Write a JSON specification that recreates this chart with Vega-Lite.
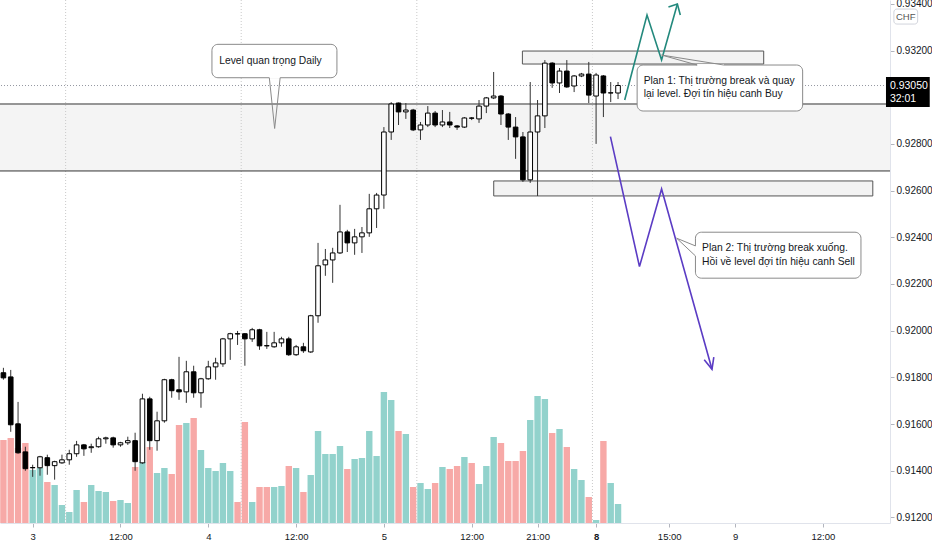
{
  "$schema": "https://vega.github.io/schema/vega-lite/v6.json",
  "description": "USDCHF 1h with daily level and two trading plans",
  "width": 890,
  "height": 523,
  "autosize": "none",
  "padding": {"left": 0, "top": 0, "right": 42, "bottom": 27},
  "background": "#ffffff",
  "datasets": {
    "bars": [
      {"i": -4, "o": 0.9182, "h": 0.91841, "l": 0.9179, "c": 0.91798, "v": 830},
      {"i": -3, "o": 0.91802, "h": 0.91832, "l": 0.91567, "c": 0.91597, "v": 850},
      {"i": -2, "o": 0.91601, "h": 0.91695, "l": 0.91473, "c": 0.91477, "v": 750},
      {"i": -1, "o": 0.91481, "h": 0.91503, "l": 0.914, "c": 0.91409, "v": 800},
      {"i": 0, "o": 0.91413, "h": 0.91426, "l": 0.91374, "c": 0.91414, "v": 530},
      {"i": 1, "o": 0.91413, "h": 0.91464, "l": 0.91379, "c": 0.9146, "v": 550},
      {"i": 2, "o": 0.91456, "h": 0.91469, "l": 0.91383, "c": 0.91422, "v": 410},
      {"i": 3, "o": 0.91422, "h": 0.91443, "l": 0.91362, "c": 0.91439, "v": 380},
      {"i": 4, "o": 0.91434, "h": 0.91469, "l": 0.9143, "c": 0.91447, "v": 180},
      {"i": 5, "o": 0.91447, "h": 0.9149, "l": 0.91426, "c": 0.91473, "v": 110},
      {"i": 6, "o": 0.91473, "h": 0.91528, "l": 0.9146, "c": 0.91511, "v": 330},
      {"i": 7, "o": 0.91511, "h": 0.91515, "l": 0.91464, "c": 0.91494, "v": 210},
      {"i": 8, "o": 0.91499, "h": 0.91516, "l": 0.91477, "c": 0.91503, "v": 380},
      {"i": 9, "o": 0.91503, "h": 0.91546, "l": 0.91499, "c": 0.91537, "v": 320},
      {"i": 10, "o": 0.91537, "h": 0.91546, "l": 0.91516, "c": 0.91541, "v": 310},
      {"i": 11, "o": 0.91541, "h": 0.91546, "l": 0.91499, "c": 0.91511, "v": 220},
      {"i": 12, "o": 0.91511, "h": 0.91524, "l": 0.91503, "c": 0.9152, "v": 230},
      {"i": 13, "o": 0.9152, "h": 0.91546, "l": 0.91511, "c": 0.91529, "v": 200},
      {"i": 14, "o": 0.91529, "h": 0.91563, "l": 0.914, "c": 0.91439, "v": 560},
      {"i": 15, "o": 0.91434, "h": 0.9173, "l": 0.9143, "c": 0.91708, "v": 610},
      {"i": 16, "o": 0.91708, "h": 0.91717, "l": 0.9149, "c": 0.91529, "v": 760},
      {"i": 17, "o": 0.91529, "h": 0.91653, "l": 0.91486, "c": 0.91614, "v": 500},
      {"i": 18, "o": 0.91614, "h": 0.91794, "l": 0.91606, "c": 0.9179, "v": 550},
      {"i": 19, "o": 0.9179, "h": 0.91794, "l": 0.91713, "c": 0.91743, "v": 490},
      {"i": 20, "o": 0.91747, "h": 0.91888, "l": 0.91704, "c": 0.91738, "v": 980},
      {"i": 21, "o": 0.91738, "h": 0.91871, "l": 0.91691, "c": 0.91824, "v": 1000},
      {"i": 22, "o": 0.91824, "h": 0.9185, "l": 0.91713, "c": 0.91734, "v": 1050},
      {"i": 23, "o": 0.91734, "h": 0.91798, "l": 0.9167, "c": 0.91794, "v": 730},
      {"i": 24, "o": 0.91794, "h": 0.91871, "l": 0.9179, "c": 0.91845, "v": 550},
      {"i": 25, "o": 0.91845, "h": 0.91884, "l": 0.9179, "c": 0.91862, "v": 520},
      {"i": 26, "o": 0.91858, "h": 0.91969, "l": 0.91845, "c": 0.91965, "v": 600},
      {"i": 27, "o": 0.91965, "h": 0.91991, "l": 0.91875, "c": 0.91987, "v": 520},
      {"i": 28, "o": 0.91987, "h": 0.91999, "l": 0.91939, "c": 0.91986, "v": 210},
      {"i": 29, "o": 0.91987, "h": 0.9199, "l": 0.9185, "c": 0.91965, "v": 1010},
      {"i": 30, "o": 0.91965, "h": 0.92012, "l": 0.91952, "c": 0.92004, "v": 210},
      {"i": 31, "o": 0.92004, "h": 0.92008, "l": 0.91918, "c": 0.91935, "v": 360},
      {"i": 32, "o": 0.91936, "h": 0.91995, "l": 0.91922, "c": 0.91935, "v": 360},
      {"i": 33, "o": 0.91931, "h": 0.91995, "l": 0.91927, "c": 0.91948, "v": 360},
      {"i": 34, "o": 0.91948, "h": 0.91974, "l": 0.91931, "c": 0.91965, "v": 370},
      {"i": 35, "o": 0.91965, "h": 0.91974, "l": 0.91892, "c": 0.91897, "v": 570},
      {"i": 36, "o": 0.91897, "h": 0.91939, "l": 0.91892, "c": 0.91931, "v": 550},
      {"i": 37, "o": 0.91931, "h": 0.91948, "l": 0.91905, "c": 0.91914, "v": 310},
      {"i": 38, "o": 0.91909, "h": 0.92068, "l": 0.91905, "c": 0.92064, "v": 480},
      {"i": 39, "o": 0.92064, "h": 0.92376, "l": 0.92034, "c": 0.92278, "v": 920},
      {"i": 40, "o": 0.92282, "h": 0.9235, "l": 0.92235, "c": 0.92303, "v": 690},
      {"i": 41, "o": 0.92303, "h": 0.92355, "l": 0.92205, "c": 0.92333, "v": 690},
      {"i": 42, "o": 0.92333, "h": 0.92539, "l": 0.92329, "c": 0.92423, "v": 770},
      {"i": 43, "o": 0.92423, "h": 0.92432, "l": 0.92337, "c": 0.92376, "v": 540},
      {"i": 44, "o": 0.92376, "h": 0.92436, "l": 0.92325, "c": 0.92402, "v": 640},
      {"i": 45, "o": 0.92402, "h": 0.92444, "l": 0.92333, "c": 0.92419, "v": 650},
      {"i": 46, "o": 0.92419, "h": 0.92586, "l": 0.92402, "c": 0.92522, "v": 920},
      {"i": 47, "o": 0.92522, "h": 0.9259, "l": 0.9244, "c": 0.92581, "v": 670},
      {"i": 48, "o": 0.92581, "h": 0.92872, "l": 0.92522, "c": 0.92851, "v": 1310},
      {"i": 49, "o": 0.92851, "h": 0.92979, "l": 0.92817, "c": 0.92971, "v": 1230},
      {"i": 50, "o": 0.92975, "h": 0.92977, "l": 0.92881, "c": 0.92937, "v": 920},
      {"i": 51, "o": 0.92937, "h": 0.92975, "l": 0.92907, "c": 0.92945, "v": 890},
      {"i": 52, "o": 0.92945, "h": 0.9295, "l": 0.92855, "c": 0.9286, "v": 360},
      {"i": 53, "o": 0.9286, "h": 0.92894, "l": 0.92817, "c": 0.92881, "v": 400},
      {"i": 54, "o": 0.92881, "h": 0.92962, "l": 0.92872, "c": 0.92932, "v": 340},
      {"i": 55, "o": 0.92932, "h": 0.92941, "l": 0.92872, "c": 0.92881, "v": 400},
      {"i": 56, "o": 0.92881, "h": 0.92945, "l": 0.92872, "c": 0.92894, "v": 560},
      {"i": 57, "o": 0.92894, "h": 0.92937, "l": 0.92868, "c": 0.92881, "v": 540},
      {"i": 58, "o": 0.92877, "h": 0.92881, "l": 0.9286, "c": 0.92872, "v": 570},
      {"i": 59, "o": 0.92872, "h": 0.92915, "l": 0.92868, "c": 0.92911, "v": 660},
      {"i": 60, "o": 0.92911, "h": 0.92915, "l": 0.92902, "c": 0.9291, "v": 600},
      {"i": 61, "o": 0.92907, "h": 0.92988, "l": 0.9289, "c": 0.92962, "v": 390},
      {"i": 62, "o": 0.92962, "h": 0.93001, "l": 0.92932, "c": 0.92997, "v": 570},
      {"i": 63, "o": 0.92997, "h": 0.93108, "l": 0.92992, "c": 0.93005, "v": 860},
      {"i": 64, "o": 0.93005, "h": 0.93009, "l": 0.92881, "c": 0.92928, "v": 800},
      {"i": 65, "o": 0.92928, "h": 0.92932, "l": 0.92817, "c": 0.92872, "v": 620},
      {"i": 66, "o": 0.92872, "h": 0.92915, "l": 0.92736, "c": 0.9283, "v": 620},
      {"i": 67, "o": 0.9283, "h": 0.92851, "l": 0.92637, "c": 0.92646, "v": 720},
      {"i": 68, "o": 0.92646, "h": 0.93065, "l": 0.92633, "c": 0.92851, "v": 1030},
      {"i": 69, "o": 0.92851, "h": 0.92988, "l": 0.92577, "c": 0.9292, "v": 1270},
      {"i": 70, "o": 0.9292, "h": 0.93159, "l": 0.92868, "c": 0.93146, "v": 1240},
      {"i": 71, "o": 0.93146, "h": 0.9315, "l": 0.9304, "c": 0.93061, "v": 900},
      {"i": 72, "o": 0.93061, "h": 0.93125, "l": 0.93018, "c": 0.93112, "v": 940},
      {"i": 73, "o": 0.93112, "h": 0.93159, "l": 0.9304, "c": 0.93044, "v": 760},
      {"i": 74, "o": 0.93048, "h": 0.93095, "l": 0.93022, "c": 0.93091, "v": 540},
      {"i": 75, "o": 0.93091, "h": 0.93104, "l": 0.93086, "c": 0.93099, "v": 430},
      {"i": 76, "o": 0.93099, "h": 0.93151, "l": 0.92975, "c": 0.93009, "v": 260},
      {"i": 77, "o": 0.93005, "h": 0.93104, "l": 0.928, "c": 0.93095, "v": 30},
      {"i": 78, "o": 0.93091, "h": 0.93095, "l": 0.92915, "c": 0.93018, "v": 820},
      {"i": 79, "o": 0.93018, "h": 0.93065, "l": 0.92979, "c": 0.93019, "v": 400},
      {"i": 80, "o": 0.93018, "h": 0.93065, "l": 0.92992, "c": 0.9305, "v": 190}
    ],
    "levels": [{"p": 0.929709}, {"p": 0.926841}],
    "band": [{"p1": 0.926841, "p2": 0.929709}],
    "sessions": [{"i": 4.5}, {"i": 28.5}, {"i": 52.5}, {"i": 76.5}],
    "zones": [
      {"i1": 66.93, "i2": 99.91, "p1": 0.931977, "p2": 0.931421},
      {"i1": 63.01, "i2": 114.82, "p1": 0.926413, "p2": 0.925771}
    ],
    "paths": [
      {"path": "buy", "kind": "buy", "k": 0, "i": 80.91, "p": 0.92988},
      {"path": "buy", "kind": "buy", "k": 1, "i": 83.96, "p": 0.933518},
      {"path": "buy", "kind": "buy", "k": 2, "i": 85.95, "p": 0.931592},
      {"path": "buy", "kind": "buy", "k": 3, "i": 88.11, "p": 0.933989},
      {"path": "buyHead", "kind": "buy", "k": 0, "i": 86.89, "p": 0.93386},
      {"path": "buyHead", "kind": "buy", "k": 1, "i": 88.11, "p": 0.933989},
      {"path": "buyHead", "kind": "buy", "k": 2, "i": 88.51, "p": 0.933518},
      {"path": "sell", "kind": "sell", "k": 0, "i": 78.96, "p": 0.928309},
      {"path": "sell", "kind": "sell", "k": 1, "i": 82.93, "p": 0.922745},
      {"path": "sell", "kind": "sell", "k": 2, "i": 85.95, "p": 0.926071},
      {"path": "sell", "kind": "sell", "k": 3, "i": 92.84, "p": 0.918345},
      {"path": "sellHead", "kind": "sell", "k": 0, "i": 91.78, "p": 0.918752},
      {"path": "sellHead", "kind": "sell", "k": 1, "i": 92.84, "p": 0.918345},
      {"path": "sellHead", "kind": "sell", "k": 2, "i": 93.09, "p": 0.918872}
    ],
    "boxes": [
      {"i1": 24.5, "i2": 41.58, "p1": 0.932264, "p2": 0.930834},
      {"i1": 82.61, "i2": 105.23, "p1": 0.931378, "p2": 0.929409},
      {"i1": 90.58, "i2": 113.2, "p1": 0.924218, "p2": 0.922249}
    ],
    "gaps": [
      {"i1": 32.34, "i2": 33.82, "p1": 0.930834, "p2": 0.930834},
      {"i1": 90.81, "i2": 94.46, "p1": 0.931378, "p2": 0.931378},
      {"i1": 90.58, "i2": 90.58, "p1": 0.923631, "p2": 0.923203}
    ],
    "pointers": [
      {"path": "lvl", "k": 0, "i": 32.34, "p": 0.930834},
      {"path": "lvl", "k": 1, "i": 33.07, "p": 0.92866},
      {"path": "lvl", "k": 2, "i": 33.82, "p": 0.930834},
      {"path": "plan1", "k": 0, "i": 90.81, "p": 0.931378},
      {"path": "plan1", "k": 1, "i": 85.95, "p": 0.931806},
      {"path": "plan1", "k": 2, "i": 94.46, "p": 0.931378},
      {"path": "plan2", "k": 0, "i": 90.58, "p": 0.923631},
      {"path": "plan2", "k": 1, "i": 88.01, "p": 0.923961},
      {"path": "plan2", "k": 2, "i": 90.58, "p": 0.923203}
    ],
    "notes": [
      {"i": 25.5, "p": 0.931549, "t": "Level quan trọng Daily"},
      {"i": 83.51, "p": 0.930693, "t": "Plan 1: Thị trường break và quay"},
      {"i": 83.51, "p": 0.930124, "t": "lại level. Đợi tín hiệu canh Buy"},
      {"i": 91.49, "p": 0.923533, "t": "Plan 2: Thị trường break xuống."},
      {"i": 91.49, "p": 0.922959, "t": "Hồi về level đợi tín hiệu canh Sell"}
    ],
    "tag": [{"i1": 116.62, "i2": 122.6, "p1": 0.930864, "p2": 0.92958}],
    "tagText": [
      {"i": 117.16, "p": 0.9305, "t": "0.93050"},
      {"i": 117.16, "p": 0.929923, "t": "32:01"}
    ],
    "cur": [{"i1": 117.7, "i2": 120.95, "p1": 0.933775, "p2": 0.933133, "i": 119.32, "p": 0.933454, "t": "CHF"}],
    "last": [{"p": 0.9305}]
  },
  "layer": [
    {
      "data": {"name": "bars"},
      "mark": {"type": "bar", "width": 6.4},
      "encoding": {
        "x": {"field": "i", "type": "quantitative", "title": null, "scale": {"domain": [-3.784, 116.486], "nice": false, "zero": false},
          "axis": {
            "values": [0, 12, 24, 36, 48, 60, 69, 77, 87, 96, 108],
            "labelExpr": "datum.value == 0 ? '3' : datum.value == 24 ? '4' : datum.value == 48 ? '5' : datum.value == 69 ? '21:00' : datum.value == 77 ? '8' : datum.value == 87 ? '15:00' : datum.value == 96 ? '9' : '12:00'",
            "labelFontWeight": {"condition": {"test": "datum.value == 77", "value": "bold"}, "value": "normal"},
            "labelFontSize": 9.5,
            "grid": false,
            "domainColor": "#e0e3eb",
            "tickColor": "#b2b5be",
            "tickSize": 4,
            "labelPadding": 4,
            "labelFlush": false,
            "labelOverlap": false
          }
        },
        "y": {"field": "v", "type": "quantitative", "title": null, "scale": {"domain": [0, 5230], "nice": false, "zero": true}, "axis": null},
        "color": {"condition": {"test": "datum.c >= datum.o", "value": "#92d2cc"}, "value": "#f7a9a7"}
      }
    },
    {
      "layer": [
        {
          "data": {"name": "band"},
          "mark": {"type": "rect", "color": "#f4f4f4"},
          "encoding": {
            "y": {"field": "p1", "type": "quantitative", "title": null, "scale": {"domain": [0.911764, 0.934163], "nice": false, "zero": false},
              "axis": {
                "orient": "right",
                "values": [0.912, 0.914, 0.916, 0.918, 0.92, 0.922, 0.924, 0.926, 0.928, 0.932, 0.934],
                "format": ".5f",
                "grid": false,
                "domainColor": "#e0e3eb",
                "tickColor": "#b2b5be",
                "tickSize": 4,
                "labelPadding": 2
              }
            },
            "y2": {"field": "p2"}
          }
        },
        {
          "data": {"name": "sessions"},
          "mark": {"type": "rule", "color": "#c9c9c9", "strokeDash": [1, 2], "strokeWidth": 1},
          "encoding": {
            "x": {"field": "i", "type": "quantitative", "title": null, "scale": {"domain": [-3.784, 116.486], "nice": false, "zero": false}}
          }
        },
        {
          "data": {"name": "last"},
          "mark": {"type": "rule", "color": "#9598a1", "strokeDash": [1, 2], "strokeWidth": 1},
          "encoding": {
            "y": {"field": "p", "type": "quantitative", "title": null, "scale": {"domain": [0.911764, 0.934163], "nice": false, "zero": false}}
          }
        },
        {
          "data": {"name": "levels"},
          "mark": {"type": "rule", "color": "#333333", "strokeWidth": 1},
          "encoding": {
            "y": {"field": "p", "type": "quantitative", "title": null, "scale": {"domain": [0.911764, 0.934163], "nice": false, "zero": false}}
          }
        },
        {
          "data": {"name": "zones"},
          "mark": {"type": "rect", "fill": "#f1f1f1", "fillOpacity": 0.85, "stroke": "#555555", "strokeWidth": 1},
          "encoding": {
            "x": {"field": "i1", "type": "quantitative", "title": null, "scale": {"domain": [-3.784, 116.486], "nice": false, "zero": false}},
            "x2": {"field": "i2"},
            "y": {"field": "p1", "type": "quantitative", "title": null, "scale": {"domain": [0.911764, 0.934163], "nice": false, "zero": false}},
            "y2": {"field": "p2"}
          }
        },
        {
          "data": {"name": "bars"},
          "mark": {"type": "rule", "color": "#333333", "strokeWidth": 1},
          "encoding": {
            "x": {"field": "i", "type": "quantitative", "title": null, "scale": {"domain": [-3.784, 116.486], "nice": false, "zero": false}},
            "y": {"field": "l", "type": "quantitative", "title": null, "scale": {"domain": [0.911764, 0.934163], "nice": false, "zero": false}},
            "y2": {"field": "h"}
          }
        },
        {
          "data": {"name": "bars"},
          "mark": {"type": "bar", "width": 4.6, "stroke": "#000000", "strokeWidth": 1},
          "encoding": {
            "x": {"field": "i", "type": "quantitative", "title": null, "scale": {"domain": [-3.784, 116.486], "nice": false, "zero": false}},
            "y": {"field": "o", "type": "quantitative", "title": null, "scale": {"domain": [0.911764, 0.934163], "nice": false, "zero": false}},
            "y2": {"field": "c"},
            "fill": {"condition": {"test": "datum.c >= datum.o", "value": "#ffffff"}, "value": "#000000"}
          }
        },
        {
          "data": {"name": "paths"},
          "mark": {"type": "line", "strokeWidth": 1.6},
          "encoding": {
            "x": {"field": "i", "type": "quantitative", "title": null, "scale": {"domain": [-3.784, 116.486], "nice": false, "zero": false}},
            "y": {"field": "p", "type": "quantitative", "title": null, "scale": {"domain": [0.911764, 0.934163], "nice": false, "zero": false}},
            "detail": {"field": "path"},
            "order": {"field": "k"},
            "color": {"field": "kind", "type": "nominal", "scale": {"domain": ["buy", "sell"], "range": ["#23897d", "#5b3cc4"]}, "legend": null}
          }
        },
        {
          "data": {"name": "boxes"},
          "mark": {"type": "rect", "fill": "#ffffff", "stroke": "#8a8a8a", "strokeWidth": 1, "cornerRadius": 6},
          "encoding": {
            "x": {"field": "i1", "type": "quantitative", "title": null, "scale": {"domain": [-3.784, 116.486], "nice": false, "zero": false}},
            "x2": {"field": "i2"},
            "y": {"field": "p1", "type": "quantitative", "title": null, "scale": {"domain": [0.911764, 0.934163], "nice": false, "zero": false}},
            "y2": {"field": "p2"}
          }
        },
        {
          "data": {"name": "gaps"},
          "mark": {"type": "rule", "color": "#ffffff", "strokeWidth": 2},
          "encoding": {
            "x": {"field": "i1", "type": "quantitative", "title": null, "scale": {"domain": [-3.784, 116.486], "nice": false, "zero": false}},
            "x2": {"field": "i2"},
            "y": {"field": "p1", "type": "quantitative", "title": null, "scale": {"domain": [0.911764, 0.934163], "nice": false, "zero": false}},
            "y2": {"field": "p2"}
          }
        },
        {
          "data": {"name": "pointers"},
          "mark": {"type": "line", "color": "#8a8a8a", "strokeWidth": 1},
          "encoding": {
            "x": {"field": "i", "type": "quantitative", "title": null, "scale": {"domain": [-3.784, 116.486], "nice": false, "zero": false}},
            "y": {"field": "p", "type": "quantitative", "title": null, "scale": {"domain": [0.911764, 0.934163], "nice": false, "zero": false}},
            "detail": {"field": "path"},
            "order": {"field": "k"}
          }
        },
        {
          "data": {"name": "notes"},
          "mark": {"type": "text", "align": "left", "baseline": "middle", "fontSize": 10.3, "color": "#131722", "font": "Liberation Sans, sans-serif"},
          "encoding": {
            "x": {"field": "i", "type": "quantitative", "title": null, "scale": {"domain": [-3.784, 116.486], "nice": false, "zero": false}},
            "y": {"field": "p", "type": "quantitative", "title": null, "scale": {"domain": [0.911764, 0.934163], "nice": false, "zero": false}},
            "text": {"field": "t"}
          }
        },
        {
          "data": {"name": "tag"},
          "mark": {"type": "rect", "fill": "#000000"},
          "encoding": {
            "x": {"field": "i1", "type": "quantitative", "title": null, "scale": {"domain": [-3.784, 116.486], "nice": false, "zero": false}},
            "x2": {"field": "i2"},
            "y": {"field": "p1", "type": "quantitative", "title": null, "scale": {"domain": [0.911764, 0.934163], "nice": false, "zero": false}},
            "y2": {"field": "p2"}
          }
        },
        {
          "data": {"name": "tagText"},
          "mark": {"type": "text", "align": "left", "baseline": "middle", "fontSize": 10.5, "color": "#ffffff", "font": "Liberation Sans, sans-serif"},
          "encoding": {
            "x": {"field": "i", "type": "quantitative", "title": null, "scale": {"domain": [-3.784, 116.486], "nice": false, "zero": false}},
            "y": {"field": "p", "type": "quantitative", "title": null, "scale": {"domain": [0.911764, 0.934163], "nice": false, "zero": false}},
            "text": {"field": "t"}
          }
        },
        {
          "data": {"name": "cur"},
          "mark": {"type": "rect", "fill": "#ffffff", "stroke": "#d1d4dc", "strokeWidth": 1, "cornerRadius": 3},
          "encoding": {
            "x": {"field": "i1", "type": "quantitative", "title": null, "scale": {"domain": [-3.784, 116.486], "nice": false, "zero": false}},
            "x2": {"field": "i2"},
            "y": {"field": "p1", "type": "quantitative", "title": null, "scale": {"domain": [0.911764, 0.934163], "nice": false, "zero": false}},
            "y2": {"field": "p2"}
          }
        },
        {
          "data": {"name": "cur"},
          "mark": {"type": "text", "align": "center", "baseline": "middle", "fontSize": 9.5, "color": "#555555", "font": "Liberation Sans, sans-serif"},
          "encoding": {
            "x": {"field": "i", "type": "quantitative", "title": null, "scale": {"domain": [-3.784, 116.486], "nice": false, "zero": false}},
            "y": {"field": "p", "type": "quantitative", "title": null, "scale": {"domain": [0.911764, 0.934163], "nice": false, "zero": false}},
            "text": {"field": "t"}
          }
        }
      ]
    }
  ],
  "resolve": {"scale": {"y": "independent"}, "axis": {"y": "independent"}},
  "config": {
    "view": {"stroke": null},
    "axis": {
      "labelFont": "Liberation Sans, sans-serif",
      "labelFontSize": 10,
      "labelColor": "#131722"
    }
  }
}
